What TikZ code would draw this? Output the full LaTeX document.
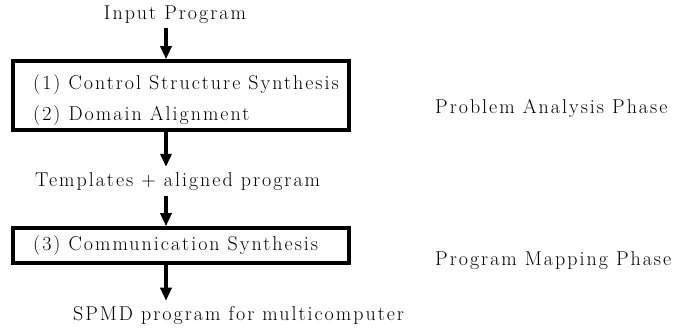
\documentclass[tikz,border=0pt]{standalone}
\usepackage{fontspec}
\setmainfont{Latin Modern Roman}[LetterSpace=10]
\usetikzlibrary{arrows.meta}
\begin{document}
\begin{tikzpicture}[x=1pt,y=-1pt,
  txt/.style={inner sep=0pt,font=\fontsize{20}{24}\selectfont},
  stagebox/.style={draw,line width=3.5pt,inner sep=0pt},
  flow/.style={line width=3.5pt,-{Triangle[width=11pt,length=13pt]}}]
\useasboundingbox (0,0) rectangle (683,331);
\coordinate (ax) at (166,0);
\node[txt] (in) at (175,15) {Input Program};
\node[stagebox,minimum width=336pt,minimum height=69pt] (b1) at (181,95.5) {};
\node[txt,anchor=base west] (l1) at (33,90) {(1) Control Structure Synthesis};
\node[txt,anchor=base west] (l2) at (33,121) {(2) Domain Alignment};
\node[txt,anchor=west] (tp) at (35,182) {Templates + aligned program};
\node[stagebox,minimum width=336pt,minimum height=35pt] (b2) at (181,245.5) {};
\node[txt,anchor=base west] (l3) at (33,251) {(3) Communication Synthesis};
\node[txt,anchor=west] (out) at (73,316) {SPMD program for multicomputer};
\node[txt,anchor=west] (pa) at (435,108) {Problem Analysis Phase};
\node[txt,anchor=west] (pm) at (435,261) {Program Mapping Phase};
\draw[flow] ([yshift=-4pt]ax |- in.south) -- (ax |- b1.north);
\draw[flow] (ax |- b1.south) -- ([yshift=6pt]ax |- tp.north);
\draw[flow] ([yshift=-5pt]ax |- tp.south) -- (ax |- b2.north);
\draw[flow] (ax |- b2.south) -- ([yshift=6pt]ax |- out.north);
\end{tikzpicture}
\end{document}
